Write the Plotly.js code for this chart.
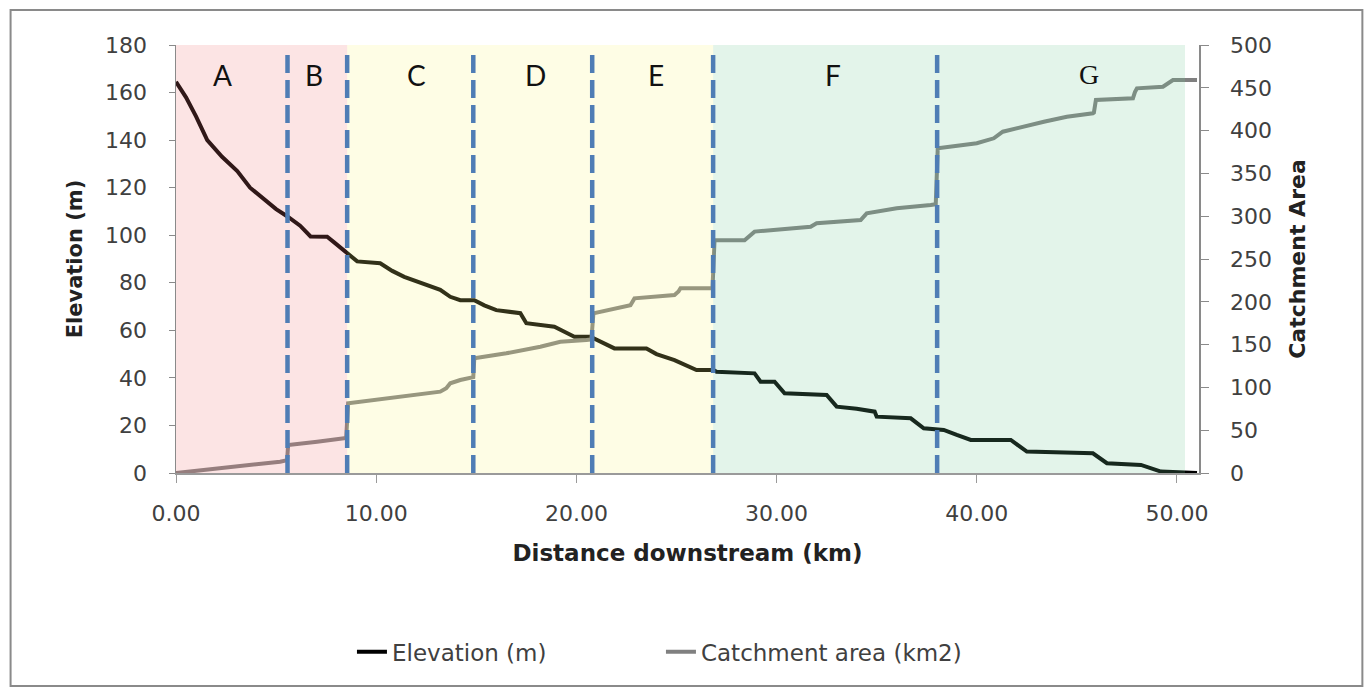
<!DOCTYPE html>
<html>
<head>
<meta charset="utf-8">
<script src="https://cdn.plot.ly/plotly-3.0.1.min.js"></script>
<style>html,body{margin:0;padding:0;background:#fff;}#chart{width:1368px;height:690px;}</style>
</head>
<body>
<div id="chart"></div>
<script>
// ---- data ----
const elevKm = [0, 0.5, 1.0, 1.56, 2.3, 3.06, 3.7, 4.39, 5.0, 5.55, 6.2, 6.72, 7.55, 7.9, 8.38, 9.05, 10.2, 10.8, 11.4, 12.7, 13.2, 13.7, 14.2, 14.9, 15.4, 16.0, 17.2, 17.5, 18.9, 19.5, 19.9, 20.7, 21.3, 21.9, 23.5, 24.0, 24.9, 25.5, 26.0, 26.85, 27.0, 28.9, 29.2, 29.9, 30.4, 32.5, 33.0, 34.0, 34.9, 35.0, 36.7, 37.35, 38.35, 39.0, 39.7, 41.7, 42.5, 45.8, 46.5, 48.2, 49.2, 51.0];
const elevation = [164.5, 158, 150, 140, 133, 127, 120, 115, 111, 108, 104, 99.5, 99.4, 97, 93.8, 89, 88.2, 85, 82.5, 78.3, 77, 74.1, 72.7, 72.7, 70.5, 68.5, 67.2, 63, 61.5, 59, 57.3, 57.3, 55, 52.4, 52.4, 50, 47.5, 45, 43.3, 43.3, 42.6, 41.9, 38.4, 38.4, 33.5, 32.8, 27.9, 27, 25.8, 23.7, 23, 18.8, 18.1, 16, 13.9, 13.9, 9, 8.3, 4.1, 3.4, 0.6, 0];

const catchKm = [0, 2.2, 3.9, 5.2, 5.55, 5.6, 7.05, 8.2, 8.5, 8.6, 11.4, 13.2, 13.5, 13.7, 14.2, 14.7, 14.85, 14.9, 16.5, 18.2, 19.2, 20.5, 20.75, 20.85, 22.5, 22.7, 22.9, 24.9, 25.1, 25.2, 26.7, 26.8, 26.9, 28.4, 28.9, 31.7, 32.0, 34.2, 34.5, 36.0, 37.7, 37.95, 38.05, 40.0, 40.85, 41.3, 43.35, 44.5, 45.8, 45.85, 45.95, 47.8, 47.9, 48.0, 49.3, 49.8, 51.0];
const catchment = [0, 5.5, 9.3, 13.2, 15, 32.7, 36.6, 40.5, 41, 81.4, 89, 95, 99, 104.8, 108.6, 110.6, 112, 134, 139.8, 147.5, 153.4, 155.4, 156, 186.6, 194.3, 196, 204, 208, 212, 215.8, 215.8, 216, 272, 272, 282, 287.7, 291.7, 295.6, 303.4, 309.2, 313, 314, 379.3, 385.2, 391, 398.7, 410.4, 416.2, 420.2, 421, 435.7, 437.7, 445, 449.4, 451.3, 459, 459];

// reach boundaries (km) and labels
const boundaries = [5.57, 8.55, 14.85, 20.79, 26.83, 38.02];
const reachLabels = ["A", "B", "C", "D", "E", "F", "G"];
const reachLabelKm = [2.3, 6.9, 12.0, 17.95, 24.0, 32.8, 45.6];
const reachZones = [[0, 8.55, "pink"], [8.55, 26.83, "yellow"], [26.83, 50.4, "green"]];
const xTicks = [0, 10, 20, 30, 40, 50];

const zoneColor = {pink: "rgba(240,120,120,0.2)", yellow: "rgba(250,245,125,0.2)", green: "rgba(115,200,150,0.2)"};

const FONT = "DejaVu Sans, Lato, sans-serif";

const traces = [
  {x: elevKm, y: elevation, type: "scatter", mode: "lines", name: "Elevation (m)",
   line: {color: "#000000", width: 4}, yaxis: "y"},
  {x: catchKm, y: catchment, type: "scatter", mode: "lines", name: "Catchment area (km2)",
   line: {color: "#808080", width: 4}, yaxis: "y2"}
];

const shapes = [];
reachZones.forEach(z => shapes.push({type: "rect", xref: "x", yref: "y", x0: z[0], x1: z[1], y0: 0, y1: 180,
  fillcolor: zoneColor[z[2]], line: {width: 0}, layer: "above"}));
boundaries.forEach(b => shapes.push({type: "line", xref: "x", yref: "y", x0: b, x1: b, y0: 0, y1: 177,
  line: {color: "#4f7db5", width: 4.5, dash: "18px,7px"}, layer: "above"}));
shapes.push({type: "rect", xref: "paper", yref: "paper", x0: -0.1617, x1: 1.1597, y0: -0.4977, y1: 1.0818,
  line: {color: "#8a8a8a", width: 2}, fillcolor: "rgba(0,0,0,0)", layer: "below"});

const annotations = reachLabels.map((t, i) => ({
  x: reachLabelKm[i], y: 167.4, xref: "x", yref: "y", text: t, showarrow: false,
  font: {family: t === "G" ? "Liberation Serif, serif" : "Lato, sans-serif", size: 28, color: "#111"}
}));

const layout = {
  width: 1368, height: 690,
  margin: {l: 176, r: 169, t: 45, b: 217},
  paper_bgcolor: "#ffffff", plot_bgcolor: "#ffffff",
  showlegend: true,
  legend: {orientation: "h", x: 0.172, xanchor: "left", y: -0.418, yanchor: "middle",
    entrywidth: 264, entrywidthmode: "pixels",
    font: {family: FONT, size: 23, color: "#404040"}, tracegroupgap: 0},
  xaxis: {range: [0, 51.1], tickvals: xTicks, tickformat: ".2f", showgrid: false, zeroline: false,
    showline: true, linecolor: "#9a9a9a", linewidth: 1.5, ticks: "outside", ticklen: 8, tickcolor: "#9a9a9a",
    ticklabelstandoff: 12,
    tickfont: {family: FONT, size: 22, color: "#404040"},
    title: {text: "<b>Distance downstream (km)</b>", font: {family: FONT, size: 23, color: "#222"}, standoff: 20}},
  yaxis: {range: [0, 180], dtick: 20, showgrid: false, zeroline: false,
    showline: true, linecolor: "#8a8a8a", linewidth: 1.5, ticks: "outside", ticklen: 6, tickcolor: "#8a8a8a",
    ticklabelstandoff: 17,
    tickfont: {family: FONT, size: 22, color: "#404040"},
    title: {text: "<b>Elevation (m)</b>", font: {family: FONT, size: 21, color: "#222"}, standoff: 16}},
  yaxis2: {range: [0, 500], dtick: 50, overlaying: "y", side: "right", showgrid: false, zeroline: false,
    showline: true, linecolor: "#8a8a8a", linewidth: 1.5, ticks: "outside", ticklen: 8, tickcolor: "#8a8a8a",
    ticklabelstandoff: 17,
    tickfont: {family: FONT, size: 22, color: "#404040"},
    title: {text: "<b>Catchment Area</b>", font: {family: FONT, size: 22, color: "#222"}, standoff: 18}},
  shapes: shapes,
  annotations: annotations
};

Plotly.newPlot("chart", traces, layout, {displayModeBar: false, staticPlot: true});
</script>
</body>
</html>
